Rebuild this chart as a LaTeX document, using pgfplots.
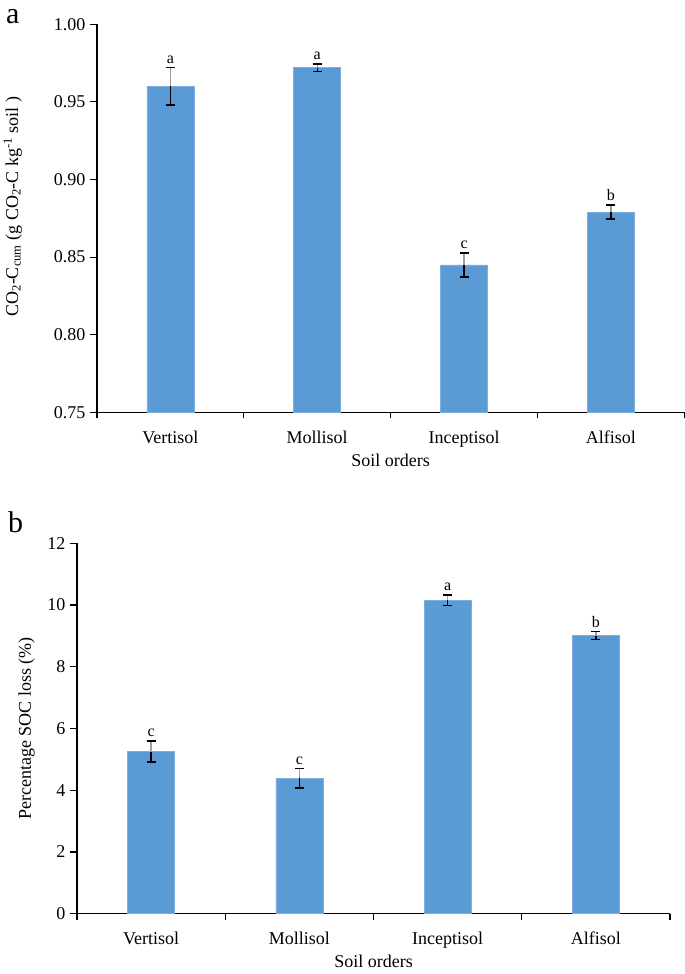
\documentclass[border=0pt]{standalone}
\usepackage{fontspec}
\setmainfont{Liberation Serif}
\usepackage{pgfplots}
\usepackage{pgfplotstable}
\pgfplotsset{compat=1.18}
\definecolor{barblue}{HTML}{5B9BD5}

\pgfplotstableread{
x y e lab
0 0.960 0.0120 a
1 0.972 0.0025 a
2 0.845 0.0077 c
3 0.879 0.0045 b
}\dataA
\pgfplotstableread{
x y e lab
0 5.25 0.34 c
1 4.39 0.31 c
2 10.15 0.17 a
3 9.01 0.13 b
}\dataB

\pgfplotsset{
  myaxis/.style={
    scale only axis,
    anchor=south west,
    axis x line*=bottom,
    axis y line*=left,
    axis line style={-, line width=1.3bp},
    xmin=-0.5, xmax=3.5,
    xtick={0,1,2,3},
    xticklabels={Vertisol,Mollisol,Inceptisol,Alfisol},
    major x tick style={draw=none},
    minor xtick={-0.5,0.5,1.5,2.5,3.5},
    minor tick length=6bp,
    minor x tick style={line width=1.1bp, black},
    major tick length=7bp,
    major y tick style={line width=1.1bp, black},
    tick align=outside,
    /pgf/number format/assume math mode=true,
    every tick label/.append style={font=\fontsize{18bp}{20bp}\selectfont},
    xticklabel style={yshift=-8bp},
    yticklabel style={xshift=-1bp},
    every axis x label/.style={at={(axis description cs:0.5,0)}, anchor=base, yshift=-54bp,
      font=\fontsize{18bp}{20bp}\selectfont},
    clip=true,
  },
  barsty/.style={ybar, bar width=47bp, bar shift=0pt, fill=barblue, draw=barblue!80!white, line width=0.5bp},
  errplus/.style={draw=none, mark=none, forget plot,
    error bars/.cd, y dir=plus, y explicit,
    error bar style={draw=gray!75, line width=1.3bp},
    error mark options={rotate=90, draw=black, mark size=4.5bp, line width=1.5bp}},
  errminus/.style={draw=none, mark=none, forget plot,
    error bars/.cd, y dir=minus, y explicit,
    error bar style={draw=black, line width=1.3bp},
    error mark options={rotate=90, draw=black, mark size=4.5bp, line width=1.5bp}},
  lettersty/.style={draw=none, mark=none, forget plot,
    nodes near coords, point meta=explicit symbolic,
    every node near coord/.style={anchor=south, inner sep=0pt, yshift=4bp,
      font=\fontsize{16bp}{18bp}\selectfont, black}},
}

\begin{document}
\begin{tikzpicture}
\useasboundingbox (0,0) rectangle (685bp,974bp);

% Panel a
\begin{axis}[myaxis,
  at={(97bp,561.7bp)},
  width=587.3bp, height=388bp,
  ymin=0.75, ymax=1.00,
  ytick={0.75,0.80,...,1.00},
  yticklabel style={/pgf/number format/.cd, fixed, fixed zerofill, precision=2},
  xlabel={Soil orders},
  ylabel={CO\textsubscript{2}-C\textsubscript{cum} (g CO\textsubscript{2}-C kg\textsuperscript{-1} soil )},
  every axis y label/.style={at={(axis description cs:-0.1345,0.53)}, rotate=90, anchor=base,
    font=\fontsize{18bp}{20bp}\selectfont},
]
\addplot[barsty] table[x=x,y=y]{\dataA};
\addplot[errplus] table[x=x,y=y,y error=e]{\dataA};
\addplot[errminus] table[x=x,y=y,y error=e]{\dataA};
\addplot[lettersty] table[x=x,y expr=\thisrow{y}+\thisrow{e},meta=lab]{\dataA};
\end{axis}
\node[anchor=base west, inner sep=0pt, font=\fontsize{30bp}{32bp}\selectfont] at (6bp,950bp) {a};

% Panel b
\begin{axis}[myaxis,
  at={(77bp,60.3bp)},
  width=593bp, height=370.4bp,
  ymin=0, ymax=12,
  ytick={0,2,...,12},
  xlabel={Soil orders},
  ylabel={Percentage SOC loss (\%)},
  every axis y label/.style={at={(axis description cs:-0.0776,0.5)}, rotate=90, anchor=base,
    font=\fontsize{18bp}{20bp}\selectfont},
]
\addplot[barsty] table[x=x,y=y]{\dataB};
\addplot[errplus] table[x=x,y=y,y error=e]{\dataB};
\addplot[errminus] table[x=x,y=y,y error=e]{\dataB};
\addplot[lettersty] table[x=x,y expr=\thisrow{y}+\thisrow{e},meta=lab]{\dataB};
\end{axis}
\node[anchor=base west, inner sep=0pt, font=\fontsize{30bp}{32bp}\selectfont] at (8bp,441bp) {b};
\end{tikzpicture}
\end{document}
